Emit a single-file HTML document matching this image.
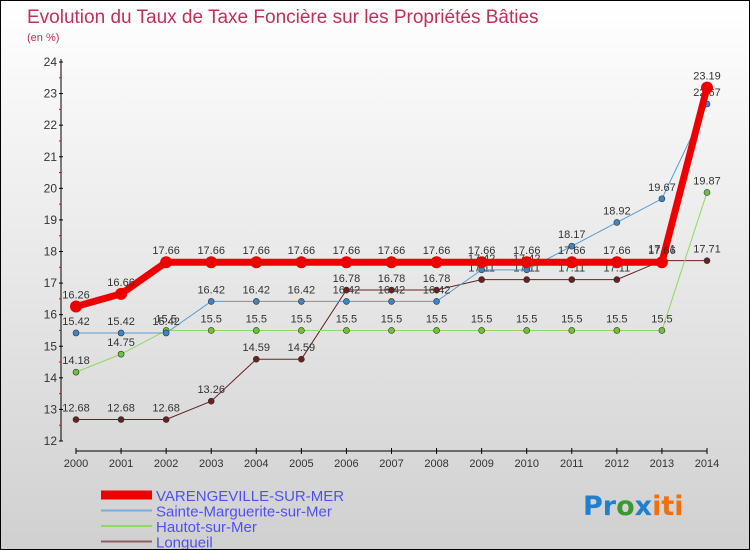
<!DOCTYPE html>
<html><head><meta charset="utf-8"><style>
body{margin:0}
#c{width:750px;height:550px;position:relative;box-sizing:border-box;border:1px solid #000;background:linear-gradient(#fff,#d0d0d0);font-family:"Liberation Sans",sans-serif;overflow:hidden}
</style></head><body>
<div id="c">
<svg id="s" width="750" height="550" style="position:absolute;left:0;top:0">
<text x="26" y="22" font-size="19" fill="#c0305a">Evolution du Taux de Taxe Foncière sur les Propriétés Bâties</text>
<text x="26" y="40" font-size="11" fill="#c0305a">(en %)</text>
<g id="axes"></g><g id="series"></g><g id="legend"></g>
<text x="582" y="514" font-size="27" font-weight="bold" font-family="'DejaVu Sans',sans-serif"><tspan fill="#1f7fd0">Pr</tspan><tspan fill="#3a9a30">o</tspan><tspan fill="#1f7fd0">x</tspan><tspan fill="#f07010">iti</tspan></text>
</svg></div>
<script>
const years=[2000,2001,2002,2003,2004,2005,2006,2007,2008,2009,2010,2011,2012,2013,2014];
const yTicks=[12,13,14,15,16,17,18,19,20,21,22,23,24];
const names=["VARENGEVILLE-SUR-MER","Sainte-Marguerite-sur-Mer","Hautot-sur-Mer","Longueil"];
const varengeville=[16.26,16.66,17.66,17.66,17.66,17.66,17.66,17.66,17.66,17.66,17.66,17.66,17.66,17.66,23.19];
const sainteMarguerite=[15.42,15.42,15.42,16.42,16.42,16.42,16.42,16.42,16.42,17.42,17.42,18.17,18.92,19.67,22.67];
const hautot=[14.18,14.75,15.5,15.5,15.5,15.5,15.5,15.5,15.5,15.5,15.5,15.5,15.5,15.5,19.87];
const longueil=[12.68,12.68,12.68,13.26,14.59,14.59,16.78,16.78,16.78,17.11,17.11,17.11,17.11,17.71,17.71];
const NS="http://www.w3.org/2000/svg";
const X=i=>75+i*(706-75)/(years.length-1);
const Y=v=>440-(v-12)*(440-61)/12;
function mk(t,a,p){const e=document.createElementNS(NS,t);for(const k in a)e.setAttribute(k,a[k]);p.appendChild(e);return e;}
const ax=document.getElementById('axes');
let e=mk('line',{x1:60,y1:58,x2:60,y2:440,stroke:'#000'},ax);


e=mk('line',{x1:75,y1:450,x2:706,y2:450,stroke:'#000'},ax);


yTicks.forEach(v=>{
 mk('line',{x1:58,x2:62,y1:Y(v),y2:Y(v),stroke:'#000'},ax);
 if(v<24)mk('line',{x1:58,x2:60,y1:Y(v+0.5),y2:Y(v+0.5),stroke:'#e00'},ax);
 const t=mk('text',{x:56,y:Y(v)+4,'text-anchor':'end','font-size':12,fill:'#333'},ax);t.textContent=v;
 
 
});
years.forEach((y,i)=>{
 mk('line',{x1:X(i),x2:X(i),y1:447,y2:453,stroke:'#000'},ax);
 const t=mk('text',{x:X(i),y:466,'text-anchor':'middle','font-size':11,fill:'#333'},ax);t.textContent=y;
 
 
});
const sg=document.getElementById('series');
const defs=[[longueil,'#6b2020','#6b2020',1,3],[hautot,'#90d860','#70c040',1,3],[sainteMarguerite,'#5a9ad0','#3a86c8',1,3],[varengeville,'#ee0000','#ee0000',7,6]];
const keys=['longueil','hautot','sainte-marguerite','varengeville'];
defs.forEach((d,k)=>{
 const g=mk('g',{},sg);
 
 
 const p=mk('polyline',{points:d[0].map((v,i)=>X(i)+','+Y(v)).join(' '),fill:'none',stroke:d[1],'stroke-width':d[3]},g);
 
 
 d[0].forEach((v,i)=>{
  const c=mk('circle',{cx:X(i),cy:Y(v),r:d[4],fill:d[2],stroke:'#333','stroke-width':d[4]>3?0:0.6},g);
  
  
  const t=mk('text',{x:X(i),y:Y(v)-8,'text-anchor':'middle','font-size':11,fill:'#333'},g);t.textContent=v;
  
  
 });
});
const lg=document.getElementById('legend');
const lc=['#ee0000','#7aaed8','#90d860','#906060'],lw=[9,2,2,2];
names.forEach((n,i)=>{
 const y=494+i*15.5;
 const l=mk('line',{x1:100,x2:151,y1:y,y2:y,stroke:lc[i],'stroke-width':lw[i]},lg);
 
 
 const t=mk('text',{x:155,y:y+6,'font-size':15,fill:'#5050f0'},lg);t.textContent=n;
 
 
});
</script>
</body></html>
